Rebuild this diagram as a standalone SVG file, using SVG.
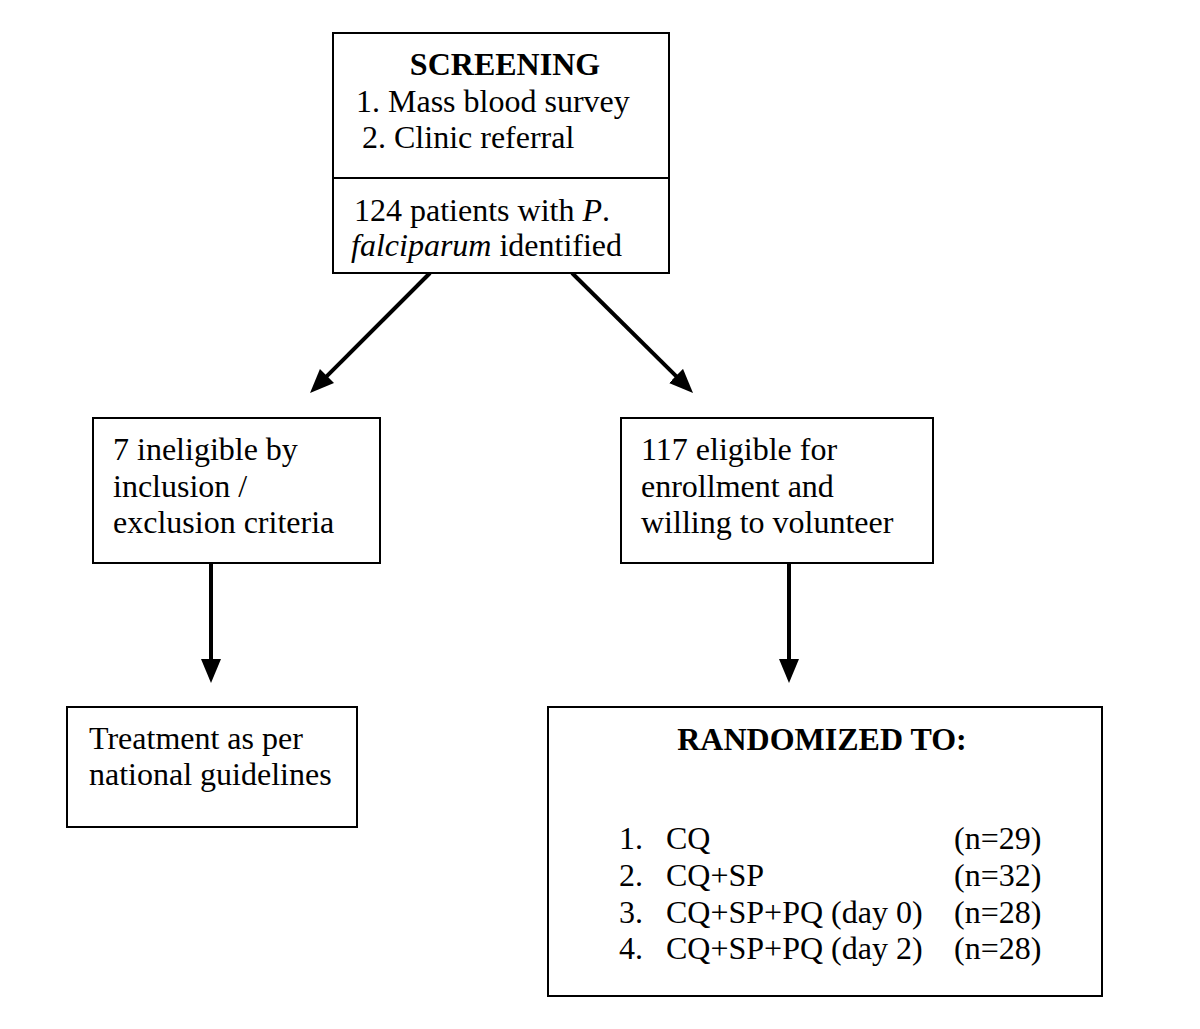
<svg xmlns="http://www.w3.org/2000/svg" width="1200" height="1029" viewBox="0 0 1200 1029">
<defs>
<style>
.box{fill:#fff;stroke:#000;stroke-width:2}
.t{font-family:"Liberation Serif","Times New Roman",serif;font-size:32px;fill:#000}
.b{font-weight:bold}
.conn{stroke:#000;stroke-width:4;fill:none}
</style>
<marker id="ah" markerUnits="userSpaceOnUse" markerWidth="26" markerHeight="22" refX="2" refY="10" orient="auto">
<path d="M0,0 L24,10 L0,20 z" fill="#000"/>
</marker>
</defs>
<rect width="1200" height="1029" fill="#fff"/>
<g id="connectors">
<line class="conn" x1="430" y1="273" x2="325.6" y2="377.4" marker-end="url(#ah)"/>
<line class="conn" x1="572" y1="273" x2="677.4" y2="377.4" marker-end="url(#ah)"/>
<line class="conn" x1="211" y1="563" x2="211" y2="661" marker-end="url(#ah)"/>
<line class="conn" x1="789" y1="563" x2="789" y2="661" marker-end="url(#ah)"/>
</g>
<g id="screening">
<rect class="box" x="333" y="33" width="336" height="240"/>
<line x1="333" y1="178" x2="669" y2="178" stroke="#000" stroke-width="2"/>
<text class="t b" x="505" y="75" text-anchor="middle">SCREENING</text>
<text class="t" x="356" y="112">1. Mass blood survey</text>
<text class="t" x="362" y="148">2. Clinic referral</text>
<text class="t" x="354" y="221">124 patients with <tspan font-style="italic">P</tspan>.</text>
<text class="t" x="351" y="256"><tspan font-style="italic">falciparum</tspan> identified</text>
</g>
<g id="ineligible">
<rect class="box" x="93" y="418" width="287" height="145"/>
<text class="t" x="113" y="460">7 ineligible by</text>
<text class="t" x="113" y="497">inclusion /</text>
<text class="t" x="113" y="533">exclusion criteria</text>
</g>
<g id="eligible">
<rect class="box" x="621" y="418" width="312" height="145"/>
<text class="t" x="641" y="460">117 eligible for</text>
<text class="t" x="641" y="497">enrollment and</text>
<text class="t" x="641" y="533">willing to volunteer</text>
</g>
<g id="treatment">
<rect class="box" x="67" y="707" width="290" height="120"/>
<text class="t" x="89" y="749">Treatment as per</text>
<text class="t" x="89" y="785">national guidelines</text>
</g>
<g id="randomized">
<rect class="box" x="548" y="707" width="554" height="289"/>
<text class="t b" x="822" y="750" text-anchor="middle">RANDOMIZED TO:</text>
<text class="t" x="619" y="849">1.</text><text class="t" x="666" y="849">CQ</text><text class="t" x="954" y="849">(n=29)</text>
<text class="t" x="619" y="886">2.</text><text class="t" x="666" y="886">CQ+SP</text><text class="t" x="954" y="886">(n=32)</text>
<text class="t" x="619" y="923">3.</text><text class="t" x="666" y="923">CQ+SP+PQ (day 0)</text><text class="t" x="954" y="923">(n=28)</text>
<text class="t" x="619" y="959">4.</text><text class="t" x="666" y="959">CQ+SP+PQ (day 2)</text><text class="t" x="954" y="959">(n=28)</text>
</g>
</svg>
